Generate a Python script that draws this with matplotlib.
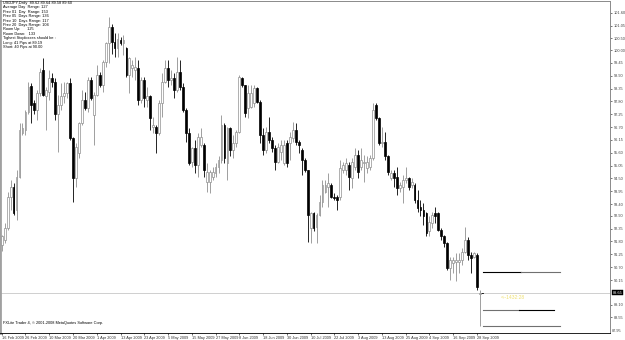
import numpy as np
import matplotlib
matplotlib.use("Agg")
import matplotlib.pyplot as plt

# USDJPY daily candles, 16 Feb 2009 .. 30 Sep 2009
opens = [91.65, 91.86, 92.37, 93.72, 94.15, 93.15, 94.57, 96.43, 96.57, 97.36,
         98.46, 97.71, 97.43, 98.15, 99.14, 98.01, 98.22, 98.79, 98.64, 97.28,
         97.64, 98.01, 98.15, 98.57, 96.22, 94.50, 95.58, 96.86, 97.85, 97.50,
         98.72, 97.21, 98.08, 98.93, 98.50, 99.50, 100.28, 100.99, 100.35, 100.07,
         100.42, 100.28, 100.07, 98.93, 99.21, 99.14, 99.21, 97.85, 98.72, 97.85,
         98.01, 96.72, 96.72, 96.43, 97.71, 98.64, 99.21, 98.72, 98.79, 98.29,
         99.07, 98.43, 97.43, 96.43, 95.22, 95.79, 95.08, 95.93, 95.93, 94.36,
         94.36, 94.57, 94.72, 95.00, 95.29, 96.79, 95.15, 96.64, 95.72, 96.01,
         96.50, 98.79, 98.50, 97.50, 97.57, 97.71, 98.36, 97.78, 96.36, 95.72,
         96.50, 96.15, 95.79, 95.22, 95.65, 95.15, 96.01, 96.01, 96.22, 96.57,
         96.08, 95.72, 95.30, 94.86, 92.37, 93.01, 92.44, 92.94, 93.51, 93.93,
         94.15, 94.22, 93.72, 93.72, 93.72, 94.86, 94.86, 95.08, 94.50, 95.00,
         95.51, 95.00, 95.15, 94.93, 95.00, 95.37, 97.64, 97.07, 96.01, 96.08,
         95.44, 94.50, 94.72, 94.57, 94.08, 94.15, 94.43, 94.50, 94.22, 94.22,
         93.58, 93.29, 93.15, 93.01, 92.23, 92.58, 93.01, 93.01, 92.30, 92.02,
         91.72, 90.66, 90.87, 90.94, 90.94, 91.01, 91.37, 91.86, 91.22, 91.15,
         91.22, 89.56]
highs = [92.09, 92.58, 93.93, 94.43, 94.29, 94.86, 96.86, 96.86, 97.43, 98.64,
         98.57, 97.85, 98.29, 99.21, 99.64, 98.43, 99.14, 99.00, 98.79, 98.08,
         98.57, 98.64, 98.64, 98.79, 96.29, 96.01, 96.93, 98.29, 98.22, 98.86,
         98.86, 98.22, 99.36, 99.07, 99.57, 100.35, 101.42, 101.13, 100.71, 100.71,
         100.56, 100.64, 100.14, 99.71, 99.57, 99.71, 99.57, 98.86, 98.86, 98.43,
         98.08, 97.14, 96.79, 97.85, 99.00, 99.57, 99.57, 99.14, 99.00, 99.71,
         99.57, 98.57, 97.50, 96.64, 95.86, 96.15, 96.43, 96.64, 96.01, 95.15,
         94.86, 95.00, 95.15, 95.44, 97.21, 96.86, 96.72, 96.72, 96.36, 96.57,
         98.93, 98.86, 98.50, 98.50, 98.50, 98.50, 98.43, 97.85, 96.64, 96.72,
         97.14, 96.29, 95.93, 96.01, 96.15, 96.15, 96.15, 96.50, 96.93, 96.86,
         96.15, 95.79, 95.37, 94.86, 93.08, 93.08, 93.01, 93.79, 94.43, 94.43,
         94.72, 94.29, 93.86, 93.79, 95.29, 95.22, 95.37, 95.22, 95.37, 95.79,
         95.72, 95.79, 95.51, 95.44, 95.51, 97.71, 97.71, 97.14, 96.72, 96.50,
         95.51, 94.86, 94.86, 95.00, 94.36, 94.64, 95.00, 94.57, 94.50, 94.29,
         94.01, 93.58, 93.44, 93.08, 92.87, 93.08, 93.29, 93.08, 92.37, 92.09,
         91.79, 91.15, 91.15, 91.29, 91.29, 91.51, 92.44, 92.01, 91.37, 91.37,
         91.29, 89.73]
lows = [91.41, 91.72, 92.30, 93.15, 92.94, 92.73, 94.50, 96.36, 96.36, 97.28,
        96.86, 97.28, 97.00, 98.01, 98.01, 96.57, 97.85, 98.43, 97.00, 95.65,
        97.43, 97.71, 97.94, 96.15, 93.51, 94.15, 95.37, 96.79, 97.43, 97.36,
        97.85, 95.93, 98.01, 98.43, 98.22, 99.28, 99.43, 99.85, 99.71, 99.71,
        100.21, 99.78, 98.86, 98.15, 98.86, 98.72, 97.64, 97.71, 97.57, 97.57,
        96.57, 96.43, 95.58, 96.36, 97.14, 98.57, 98.43, 98.50, 97.93, 98.22,
        98.29, 97.36, 96.08, 95.08, 95.00, 94.72, 94.57, 95.86, 94.57, 93.93,
        93.86, 94.43, 94.57, 94.72, 95.15, 95.15, 94.43, 95.44, 95.37, 95.86,
        96.43, 98.43, 97.14, 97.07, 97.50, 97.57, 97.71, 96.01, 95.51, 95.58,
        96.01, 95.65, 94.86, 95.15, 95.30, 95.08, 95.00, 95.30, 96.08, 95.93,
        95.58, 94.64, 94.79, 91.79, 91.72, 92.23, 91.72, 92.87, 93.29, 93.86,
        93.29, 93.65, 93.58, 93.15, 93.58, 94.72, 94.64, 94.01, 94.08, 94.86,
        94.50, 94.86, 94.36, 94.72, 94.86, 95.30, 97.00, 95.94, 95.86, 95.30,
        94.64, 94.43, 94.15, 93.79, 93.93, 93.44, 94.29, 94.01, 94.08, 93.44,
        93.08, 92.87, 92.51, 92.02, 92.02, 92.37, 92.58, 92.23, 91.86, 91.58,
        90.59, 90.16, 90.44, 90.09, 90.44, 90.80, 91.29, 91.01, 90.44, 91.08,
        89.73, 88.17]
closes = [92.02, 92.37, 93.72, 94.15, 93.01, 94.57, 96.57, 96.65, 97.36, 98.43,
          97.64, 97.43, 98.15, 99.07, 98.08, 98.29, 98.79, 98.64, 97.28, 97.64,
          98.01, 98.15, 98.57, 96.22, 94.50, 95.86, 96.86, 97.85, 97.50, 98.72,
          97.93, 98.08, 98.93, 98.50, 99.50, 100.28, 100.99, 100.35, 100.07, 100.49,
          100.28, 100.42, 98.93, 99.64, 99.36, 99.28, 97.85, 98.72, 97.93, 98.01,
          97.07, 96.79, 96.43, 97.71, 98.64, 99.21, 98.72, 98.79, 98.29, 99.07,
          98.43, 97.43, 96.43, 95.15, 95.79, 95.08, 96.29, 96.29, 94.86, 94.79,
          94.79, 94.79, 95.00, 95.29, 96.79, 95.37, 96.64, 95.72, 96.01, 96.50,
          98.86, 98.50, 97.29, 98.15, 98.15, 98.36, 97.78, 96.36, 95.72, 96.50,
          96.15, 95.79, 95.22, 95.86, 95.93, 95.93, 95.15, 96.29, 96.57, 96.08,
          95.93, 95.30, 94.86, 92.94, 93.01, 92.37, 92.94, 93.51, 94.22, 94.22,
          94.29, 93.72, 93.65, 93.58, 94.93, 95.08, 95.15, 94.57, 95.22, 95.51,
          94.79, 95.30, 95.22, 95.22, 95.37, 97.43, 97.07, 96.01, 96.08, 95.44,
          94.79, 94.72, 94.50, 94.08, 94.22, 94.43, 94.50, 94.15, 94.36, 93.58,
          93.22, 93.15, 92.87, 92.16, 92.65, 92.94, 92.87, 92.30, 92.02, 91.72,
          90.66, 91.01, 91.01, 91.01, 91.01, 91.37, 91.86, 91.22, 91.08, 91.29,
          89.87, 89.60]

date_labels = ["16 Feb 2009", "26 Feb 2009", "10 Mar 2009", "20 Mar 2009", "1 Apr 2009",
               "13 Apr 2009", "23 Apr 2009", "5 May 2009", "15 May 2009", "27 May 2009",
               "8 Jun 2009", "18 Jun 2009", "30 Jun 2009", "10 Jul 2009", "22 Jul 2009",
               "3 Aug 2009", "13 Aug 2009", "25 Aug 2009", "4 Sep 2009", "16 Sep 2009",
               "28 Sep 2009"]
price_ticks = [101.60, 101.05, 100.50, 100.00, 99.45, 98.90, 98.35, 97.80, 97.25,
               96.70, 96.15, 95.60, 95.05, 94.50, 93.95, 93.40, 92.90, 92.35, 91.80,
               91.25, 90.70, 90.15, 89.10, 88.55]
bottom_price = 87.95
current_price = 89.60
current_label = "89.65"

# indicator levels drawn on the right
level_prices = [90.50, 88.86, 88.19]
level_start = [162, 162, 162]
level_end = [188, 186, 188]
timer_text = "<--1432:28"

info_lines = ["USDJPY,Daily  89.62 89.64 89.58 89.60",
              "Average Day  Range: 127",
              "Prev 01  Day  Range: 153",
              "Prev 05  Days Range: 136",
              "Prev 10  Days Range: 117",
              "Prev 20  Days Range: 104",
              "Room Up:      125",
              "Room Down:   133",
              "Tighest Stoplosses should be :",
              "Long: 41 Pips at 89.19",
              "Short: 40 Pips at 90.00"]

W, H = 625, 340
fig = plt.figure(figsize=(W / 100, H / 100), dpi=100)
fig.patch.set_facecolor("white")
ax = fig.add_axes([0, (H - 333) / H, 610 / W, 332 / H])

o = np.array(opens)
hi = np.array(highs)
lo = np.array(lows)
c = np.array(closes)
x = np.arange(len(o))
up = c >= o

bull_col = "#8f8f8f"
ax.vlines(x[up], lo[up], hi[up], color=bull_col, lw=0.6)
ax.vlines(x[~up], lo[~up], hi[~up], color="black", lw=0.6)
body_lo = np.minimum(o, c)
body_h = np.maximum(np.abs(c - o), 0.03)
ax.bar(x[up], body_h[up], bottom=body_lo[up], width=0.62, color="white",
       edgecolor=bull_col, linewidth=0.5, zorder=3)
ax.bar(x[~up], body_h[~up], bottom=body_lo[~up], width=0.62, color="black",
       edgecolor="black", linewidth=0.5, zorder=3)

# current price line
ax.axhline(current_price, color="#c8c8c8", lw=0.6, zorder=1)
ax.plot([x[-1] + 0.4, x[-1] + 1.0], [current_price, current_price], color="black", lw=0.6)

# levels: two-tone lines
ax.plot([level_start[0], (level_start[0] + level_end[0]) / 2], [level_prices[0]] * 2, color="black", lw=0.8)
ax.plot([(level_start[0] + level_end[0]) / 2, level_end[0]], [level_prices[0]] * 2, color="#707070", lw=0.8)
ax.plot([level_start[1], (level_start[1] + level_end[1]) / 2], [level_prices[1]] * 2, color="#707070", lw=0.8)
ax.plot([(level_start[1] + level_end[1]) / 2, level_end[1]], [level_prices[1]] * 2, color="black", lw=0.8)
ax.plot([level_start[2], level_end[2]], [level_prices[2]] * 2, color="#707070", lw=0.8)
ax.text(168, 89.39, timer_text, color="#efe070", fontsize=3.6,
        family="Liberation Sans", va="center", ha="left")

ax.set_xlim(-0.57, 204.8)
ax.set_ylim(87.88, 102.10)

# right price axis
ax.yaxis.tick_right()
ax.set_yticks(price_ticks)
ax.set_yticklabels([f"{p:.2f}" for p in price_ticks])
ax.tick_params(axis="y", length=1.5, width=0.5, pad=1, labelsize=2.8, colors="#404040")
for t in ax.get_yticklabels():
    t.set_family("Liberation Sans")
ax.text(1.003, 0.0, f"{bottom_price:.2f}", transform=ax.transAxes, fontsize=2.8,
        family="Liberation Sans", va="bottom", ha="left", color="#404040")
ax.text(1.004, current_price, current_label, transform=ax.get_yaxis_transform(),
        fontsize=2.8, family="Liberation Sans", va="center", ha="left", color="white",
        bbox=dict(boxstyle="square,pad=0.15", fc="black", ec="black", lw=0.3))

# bottom date axis
ax.set_xticks(np.arange(0, 8 * len(date_labels), 8))
ax.set_xticklabels(date_labels, ha="left")
ax.tick_params(axis="x", length=1.5, width=0.5, pad=1, labelsize=2.8, colors="#303030")
for t in ax.get_xticklabels():
    t.set_family("Liberation Sans")

for s in ["top", "right"]:
    ax.spines[s].set_color("#8a8a8a")
    ax.spines[s].set_linewidth(0.7)
ax.spines["bottom"].set_color("black")
ax.spines["bottom"].set_linewidth(0.6)
ax.spines["left"].set_color("#a0a0a0")
ax.spines["left"].set_linewidth(2.0)

for i, line in enumerate(info_lines):
    fig.text(3 / W, 1 - (3 + 4.4 * i) / H, line, fontsize=2.8, family="Liberation Sans",
             va="center", ha="left", color="black")
fig.text(3 / W, 1 - 323 / H, "FXLite Trader 4, \u00a9 2001-2008 MetaQuotes Software Corp.",
         fontsize=2.8, family="Liberation Sans", va="center", ha="left", color="black")

fig.savefig("out.png", dpi=100)
